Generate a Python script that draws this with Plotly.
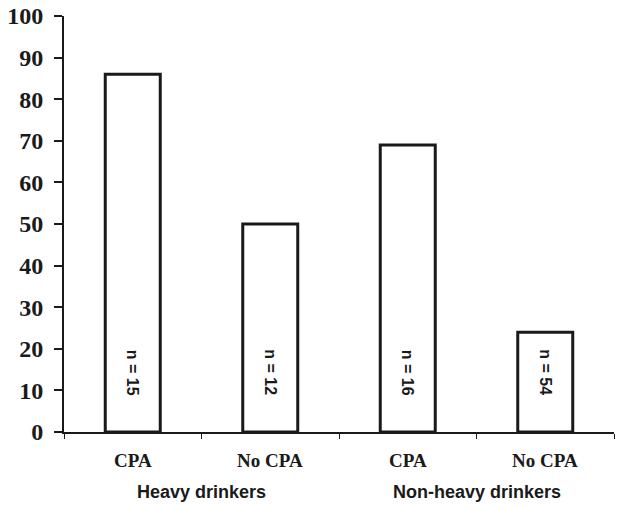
import plotly.graph_objects as go

categories = ["CPA", "No CPA", "CPA", "No CPA"]
groups = ["Heavy drinkers", "Non-heavy drinkers"]
values = [86, 50, 69, 24]
n_labels = ["n = 15", "n = 12", "n = 16", "n = 54"]
y_ticks = [0, 10, 20, 30, 40, 50, 60, 70, 80, 90, 100]

xpos = [i + 0.5 for i in range(len(categories))]

serif = "Liberation Serif, Times New Roman, serif"
sans = "Liberation Sans, Arial, sans-serif"

fig = go.Figure()
fig.add_trace(go.Bar(
    x=xpos, y=values, width=0.4,
    marker=dict(color="white", line=dict(color="#1a1a1a", width=3)),
    showlegend=False, hoverinfo="skip",
))

annotations = []
for x, lab in zip(xpos, n_labels):
    annotations.append(dict(
        x=x, y=14.3, xref="x", yref="y", text=lab, showarrow=False,
        textangle=90, font=dict(family=sans, size=16, color="#1a1a1a", weight="bold"),
    ))
for x, lab in zip(xpos, categories):
    annotations.append(dict(
        x=x, y=0, xref="x", yref="paper", yanchor="middle", yshift=-28, text=lab,
        showarrow=False, font=dict(family=serif, size=19, color="#1a1a1a", weight="bold"),
    ))
for i, g in enumerate(groups):
    annotations.append(dict(
        x=2 * i + 1, y=0, xref="x", yref="paper", yanchor="middle", yshift=-60, text=g,
        showarrow=False, font=dict(family=sans, size=18, color="#1a1a1a", weight="bold"),
    ))

fig.update_layout(
    width=624, height=510,
    margin=dict(l=64, r=10, t=16, b=78, autoexpand=False),
    plot_bgcolor="white", paper_bgcolor="white",
    annotations=annotations,
    xaxis=dict(
        range=[0, 4], tickvals=[0, 1, 2, 3, 4], ticktext=["", "", "", "", ""],
        ticks="outside", ticklen=5, tickwidth=1, tickcolor="#1a1a1a",
        showline=True, linecolor="#1a1a1a", linewidth=1.5,
        showgrid=False, zeroline=False, automargin=False,
    ),
    yaxis=dict(
        range=[0, 100], tickvals=y_ticks,
        ticks="outside", ticklen=8, tickwidth=2, tickcolor="#1a1a1a",
        showline=True, linecolor="#1a1a1a", linewidth=2,
        showgrid=False, zeroline=False, automargin=False,
        ticklabelstandoff=6,
        tickfont=dict(family=serif, size=24, color="#1a1a1a", weight="bold"),
    ),
)

fig.write_html("out.html", config={"displayModeBar": False},
               post_script="document.body.style.margin='0';")
